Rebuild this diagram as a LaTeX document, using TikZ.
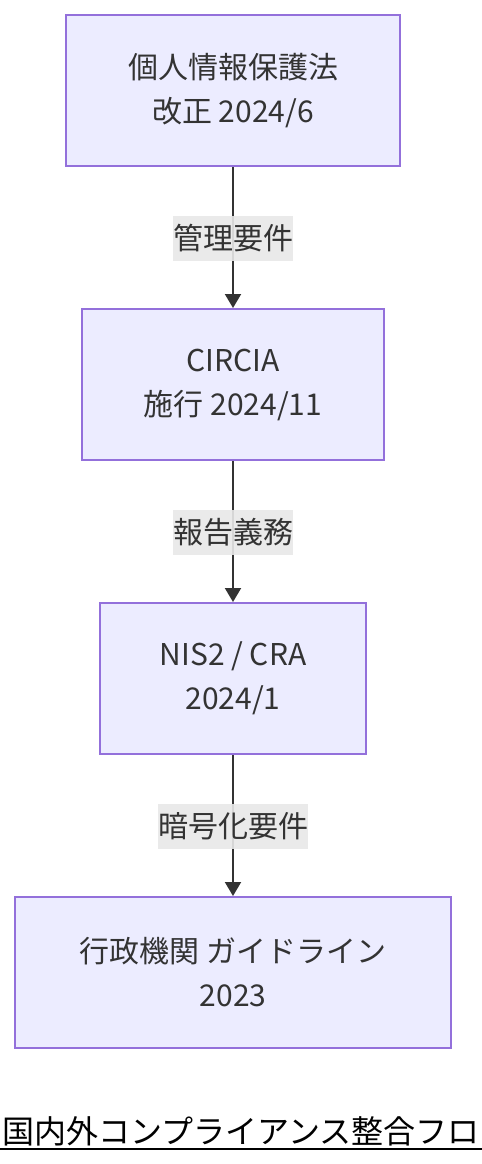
\documentclass[tikz,border=0pt]{standalone}
\usepackage{fontspec}
\setmainfont{Noto Sans CJK JP}
\usetikzlibrary{arrows.meta}
\definecolor{nodefill}{HTML}{ECECFF}
\definecolor{nodeline}{HTML}{9370DB}
\definecolor{txt}{HTML}{333333}
\definecolor{lblbg}{HTML}{E8E8E8}
\tikzset{
  box/.style={draw=nodeline, fill=nodefill, line width=1.5pt, minimum height=113.25pt, align=center, text=txt, font=\fontsize{22.5}{33}\selectfont, inner sep=0pt},
  lbl/.style={fill=lblbg, fill opacity=0.9, text opacity=1, text=txt, font=\fontsize{22.5}{27}\selectfont, inner xsep=0pt, minimum height=33.75pt},
  conn/.style={draw=txt, line width=1.5pt, -{Triangle[width=12pt,length=10.5pt]}},
}
\begin{document}
\begin{tikzpicture}[x=0.75pt,y=-0.75pt]
\useasboundingbox (0,0) rectangle (482,1164);
\node[box, minimum width=250.5pt] (b1) at (233,90.5) {個人情報保護法\\改正 2024/6};
\node[box, minimum width=226.5pt] (b2) at (233,384.5) {CIRCIA\\施行 2024/11};
\node[box, minimum width=199.5pt] (b3) at (233,678.5) {NIS2\ /\ CRA\\2024/1};
\node[box, minimum width=327pt] (b4) at (233,972.5) {行政機関 ガイドライン\\2023};
\draw[conn] (b1) -- (b2);
\draw[conn] (b2) -- (b3);
\draw[conn] (b3) -- (b4);
\node[lbl] (l1) at (233,238) {管理要件};
\node[lbl] (l2) at (233,532) {報告義務};
\node[lbl] (l3) at (233,826) {暗号化要件};
\node[anchor=base west, inner sep=0pt, font=\fontsize{24}{28}\selectfont, text=black] (title) at (2,1143) {国内外コンプライアンス整合フロ};
\coordinate (ul1) at (0,1149);
\coordinate (ul2) at (482,1149);
\draw[line width=1.5pt, black] (ul1) -- (ul2);
\end{tikzpicture}
\end{document}
